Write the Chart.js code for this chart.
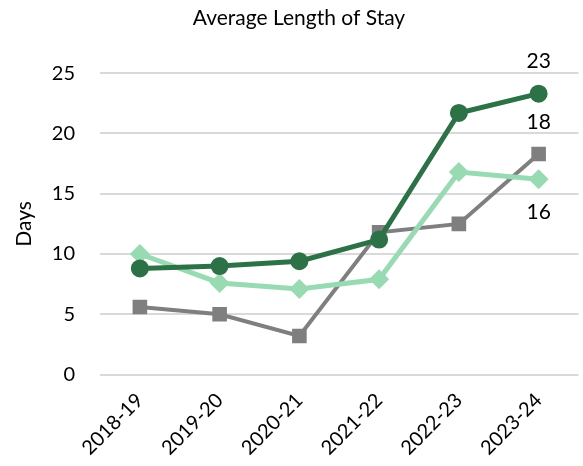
<!DOCTYPE html>
<html lang="en">
<head>
    <meta charset="UTF-8">
    <title>Average Length of Stay</title>
    <script src="https://cdn.jsdelivr.net/npm/chart.js"></script>
    <style>
        body { margin: 0; background: #fff; overflow: hidden; }
        #wrap { width: 583px; height: 466px; overflow: hidden; }
    </style>
</head>
<body>
<div id="wrap"><canvas id="losChart" width="590" height="466"></canvas></div>

<script>
const years = ["2018-19", "2019-20", "2020-21", "2021-22", "2022-23", "2023-24"];
const seriesA = [8.8, 9.0, 9.4, 11.2, 21.7, 23.3];   // dark green, circles
const seriesB = [10.0, 7.6, 7.1, 7.9, 16.8, 16.2];   // light green, diamonds
const seriesC = [5.6, 5.0, 3.2, 11.8, 12.5, 18.3];   // grey, squares
const yTicks = [0, 5, 10, 15, 20, 25];

const font = "Lato, 'Open Sans', sans-serif";

// labels on the last point of each line
const endLabels = {
    id: 'endLabels',
    afterDatasetsDraw(chart) {
        const ctx = chart.ctx;
        const spots = [
            { ds: 0, dy: -32 },
            { ds: 2, dy: -32 },
            { ds: 1, dy: 33 }
        ];
        ctx.save();
        ctx.font = "21px " + font;
        ctx.fillStyle = '#000';
        ctx.textAlign = 'center';
        ctx.textBaseline = 'middle';
        spots.forEach(s => {
            const pts = chart.getDatasetMeta(s.ds).data;
            const p = pts[pts.length - 1];
            const v = chart.data.datasets[s.ds].data[pts.length - 1];
            ctx.fillText(Math.round(v), p.x, p.y + s.dy);
        });
        ctx.restore();
    }
};

new Chart(document.getElementById('losChart'), {
    type: 'line',
    data: {
        labels: years,
        datasets: [
            {
                data: seriesA,
                borderColor: '#2d7247',
                backgroundColor: '#2d7247',
                borderWidth: 5,
                pointStyle: 'circle',
                pointRadius: 6.5,
                tension: 0
            },
            {
                data: seriesB,
                borderColor: '#98dab2',
                backgroundColor: '#98dab2',
                borderWidth: 5,
                pointStyle: 'rectRot',
                pointRadius: 6.5,
                tension: 0
            },
            {
                data: seriesC,
                borderColor: '#7f7f7f',
                backgroundColor: '#7f7f7f',
                borderWidth: 4,
                pointStyle: 'rect',
                pointRadius: 7.5,
                tension: 0
            }
        ]
    },
    options: {
        responsive: false,
        animation: false,
        layout: { padding: { left: 8, right: 0, top: 6, bottom: 0 } },
        plugins: {
            legend: { display: false },
            tooltip: { enabled: false },
            title: {
                display: true,
                text: 'Average Length of Stay',
                color: '#000',
                font: { family: font, size: 21, weight: 'normal' },
                padding: { top: 0, bottom: 42 }
            }
        },
        scales: {
            x: {
                offset: true,
                afterFit(scale) { scale.paddingLeft = 0; scale.paddingRight = 0; },
                grid: { display: false },
                border: { display: false },
                ticks: {
                    color: '#000',
                    font: { family: font, size: 20 },
                    minRotation: 45,
                    maxRotation: 45,
                    padding: 6
                }
            },
            y: {
                min: 0,
                max: 25,
                afterBuildTicks(scale) { scale.ticks = yTicks.map(v => ({ value: v })); },
                afterFit(scale) { scale.width = 92; },
                grid: { color: '#d9d9d9', lineWidth: 2, drawTicks: false },
                border: { display: false },
                ticks: {
                    color: '#000',
                    font: { family: font, size: 20 },
                    padding: 25
                },
                title: {
                    display: true,
                    text: 'Days',
                    color: '#000',
                    font: { family: font, size: 21 },
                    padding: { top: 4, bottom: 0 }
                }
            }
        }
    },
    plugins: [endLabels]
});
</script>
</body>
</html>
